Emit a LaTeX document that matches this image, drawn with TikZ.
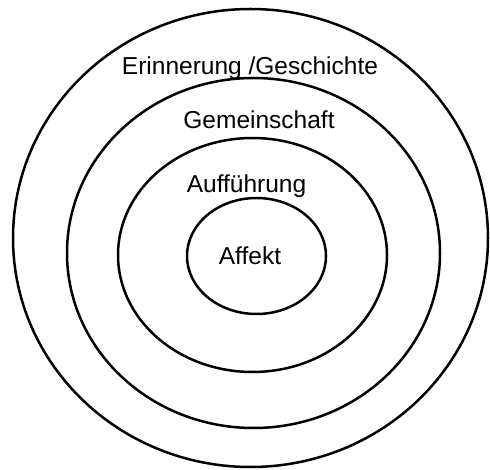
\documentclass[tikz,border=0pt]{standalone}
\usepackage{fontspec}
\setmainfont{Liberation Sans}
\usepackage{tikz}
\usetikzlibrary{shapes.geometric}
\tikzset{
  ring/.style={ellipse,draw=black,line width=2.5pt,inner sep=0pt},
  ringlabel/.style={font=\fontsize{24.5}{29}\selectfont,anchor=base,inner sep=0pt}
}

\begin{document}
\begin{tikzpicture}[x=1pt,y=-1pt]
    \useasboundingbox (0,0) rectangle (490,470);
    % rings, outside in
    \node[ring,minimum width=475pt,minimum height=458pt] (memory) at (250.5,238) {};
    \node[ring,minimum width=373pt,minimum height=350pt] (community) at (253.5,253) {};
    \node[ring,minimum width=269pt,minimum height=234pt] (performance) at (252.5,255) {};
    \node[ring,minimum width=139pt,minimum height=116pt] (affect) at (256.5,256) {};

    % labels
    \node[ringlabel] (memorytext) at (250,75) {Erinnerung /Geschichte};
    \node[ringlabel] (communitytext) at (259,129) {Gemeinschaft};
    \node[ringlabel] (performancetext) at (246.5,193) {Aufführung};
    \node[ringlabel] (affecttext) at (250,265) {Affekt};
  \end{tikzpicture}
\end{document}
